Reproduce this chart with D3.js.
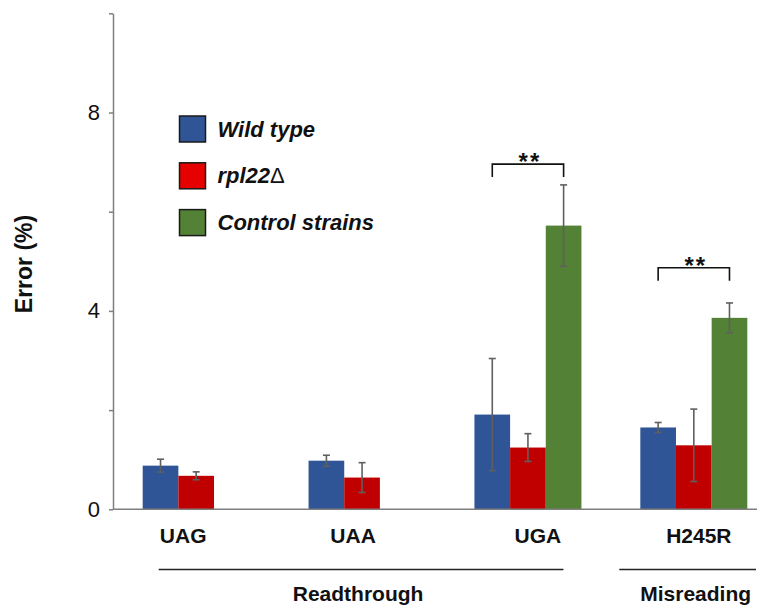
<!DOCTYPE html>
<html>
<head>
<meta charset="utf-8">
<script src="https://cdn.jsdelivr.net/npm/d3@7"></script>
<style>
  body { margin: 0; background: #fff; }
  text { font-family: "Liberation Sans", Arial, Helvetica, sans-serif; }
</style>
</head>
<body>
<svg id="chart" width="759" height="612"></svg>
<script>
// data
const categories = ['UAG', 'UAA', 'UGA', 'H245R'];
const series = ['wt', 'rpl22', 'control'];
const wildType = [0.88, 0.98, 1.91, 1.65];
const wildTypeErr = [0.13, 0.11, 1.13, 0.10];
const rpl22 = [0.675, 0.64, 1.245, 1.29];
const rpl22Err = [0.08, 0.30, 0.28, 0.73];
const control = [null, null, 5.72, 3.86];
const controlErr = [null, null, 0.82, 0.30];
const yTicks = [0, 2, 4, 6, 8, 10];
const yTickLabels = ['0', '', '4', '', '8', ''];
const legendLabels = ['Wild type', 'rpl22', 'Control strains'];
const sigCats = ['UGA', 'H245R'];
const sigLevel = [6.96, 4.87];
const groupNames = ['Readthrough', 'Misreading'];
const groupFrom = ['UAG', 'H245R'];
const groupTo = ['UGA', 'H245R'];

const colors = { wt: '#2F5597', rpl22: '#C00000', control: '#538135' };
const legendColors = ['#2F5597', '#E60000', '#538135'];
const labelNudge = [-13, -9, 10, 5];

const AXIS_X = 113;
const svg = d3.select('#chart');

const x = d3.scaleBand()
  .domain(categories)
  .range([AXIS_X, 777])
  .paddingInner(0.355)
  .paddingOuter(0.179);

const xs = d3.scaleBand().domain(series).range([0, x.bandwidth()]);

const y = d3.scaleLinear().domain([0, 10]).range([509.3, 13.3]);

const rows = [];
categories.forEach((c, i) => {
  rows.push({ cat: c, s: 'wt', v: wildType[i], e: wildTypeErr[i] });
  rows.push({ cat: c, s: 'rpl22', v: rpl22[i], e: rpl22Err[i] });
  rows.push({ cat: c, s: 'control', v: control[i], e: controlErr[i] });
});
const bars = rows.filter(d => d.v != null);

// bars
svg.append('g').selectAll('rect')
  .data(bars)
  .join('rect')
  .attr('x', d => x(d.cat) + xs(d.s))
  .attr('y', d => y(d.v))
  .attr('width', xs.bandwidth())
  .attr('height', d => y(0) - y(d.v))
  .attr('fill', d => colors[d.s]);

// error bars
const err = svg.append('g')
  .attr('stroke', '#5f5f5f')
  .attr('stroke-width', 1.6);
bars.forEach(d => {
  const cx = x(d.cat) + xs(d.s) + xs.bandwidth() / 2;
  err.append('line')
    .attr('x1', cx).attr('x2', cx)
    .attr('y1', y(d.v + d.e)).attr('y2', y(d.v - d.e));
  [d.v + d.e, d.v - d.e].forEach(v => {
    err.append('line')
      .attr('x1', cx - 3.5).attr('x2', cx + 3.5)
      .attr('y1', y(v)).attr('y2', y(v));
  });
});

// y axis
const yAxis = d3.axisLeft(y)
  .tickValues(yTicks)
  .tickSize(4)
  .tickSizeOuter(0)
  .tickFormat((d, i) => yTickLabels[i]);
svg.append('g')
  .attr('transform', `translate(${AXIS_X},0)`)
  .call(yAxis)
  .call(g => g.selectAll('path, line').attr('stroke', '#7f7f7f').attr('stroke-width', 1.5))
  .call(g => g.selectAll('text')
    .attr('x', -13)
    .attr('fill', '#111')
    .style('font-size', '22px'));

// x axis line
svg.append('line')
  .attr('x1', AXIS_X).attr('x2', 757)
  .attr('y1', y(0)).attr('y2', y(0))
  .attr('stroke', '#7f7f7f')
  .attr('stroke-width', 1.5);

// category labels
svg.append('g').selectAll('text')
  .data(categories)
  .join('text')
  .attr('x', (d, i) => x(d) + x.bandwidth() / 2 + labelNudge[i])
  .attr('y', 543)
  .attr('text-anchor', 'middle')
  .style('font-size', '21px')
  .style('font-weight', 'bold')
  .attr('fill', '#111')
  .text(d => d);

// y label
svg.append('text')
  .attr('transform', 'translate(32,264) rotate(-90)')
  .attr('text-anchor', 'middle')
  .style('font-size', '23px')
  .style('font-weight', 'bold')
  .attr('fill', '#111')
  .text('Error (%)');

// group lines and labels
groupNames.forEach((name, i) => {
  const x1 = i === 0 ? x(groupFrom[i]) + 16 : x(groupFrom[i]) - 21;
  const x2 = i === 0 ? x(groupTo[i]) + x.bandwidth() - 18 : 756;
  svg.append('line')
    .attr('x1', x1).attr('x2', x2)
    .attr('y1', 569.5).attr('y2', 569.5)
    .attr('stroke', '#222')
    .attr('stroke-width', 1.4);
  svg.append('text')
    .attr('x', i === 0 ? (x1 + x2) / 2 - 3 : (x1 + x2) / 2 + 8)
    .attr('y', 601)
    .attr('text-anchor', 'middle')
    .style('font-size', '21px')
    .style('font-weight', 'bold')
    .attr('fill', '#111')
    .text(name);
});

// significance brackets
sigCats.forEach((c, i) => {
  const xl = x(c) + xs('wt') + xs.bandwidth() / 2;
  const xr = x(c) + xs('control') + xs.bandwidth() / 2;
  const yt = y(sigLevel[i]);
  svg.append('path')
    .attr('d', `M${xl},${yt + 13}V${yt}H${xr}V${yt + 13}`)
    .attr('fill', 'none')
    .attr('stroke', '#111')
    .attr('stroke-width', 1.6);
  svg.append('text')
    .attr('x', (xl + xr) / 2 + 2)
    .attr('y', yt + 6)
    .attr('text-anchor', 'middle')
    .style('font-size', '24px')
    .style('font-weight', 'bold')
    .style('letter-spacing', '2px')
    .attr('fill', '#111')
    .text('**');
});

// legend
const legend = svg.append('g').attr('transform', 'translate(179.5,116)');
legendLabels.forEach((lab, i) => {
  const row = legend.append('g').attr('transform', `translate(0,${i * 46.8})`);
  row.append('rect')
    .attr('width', 26).attr('height', 26)
    .attr('fill', legendColors[i])
    .attr('stroke', '#1a1a1a')
    .attr('stroke-width', 1.5);
  const t = row.append('text')
    .attr('x', 38).attr('y', 20.5)
    .style('font-size', '22px')
    .style('font-weight', 'bold')
    .style('font-style', 'italic')
    .attr('fill', '#111')
    .text(lab);
  if (i === 1) t.append('tspan').style('font-style', 'normal').style('font-weight', 'normal').text('Δ');
});
</script>
</body>
</html>
